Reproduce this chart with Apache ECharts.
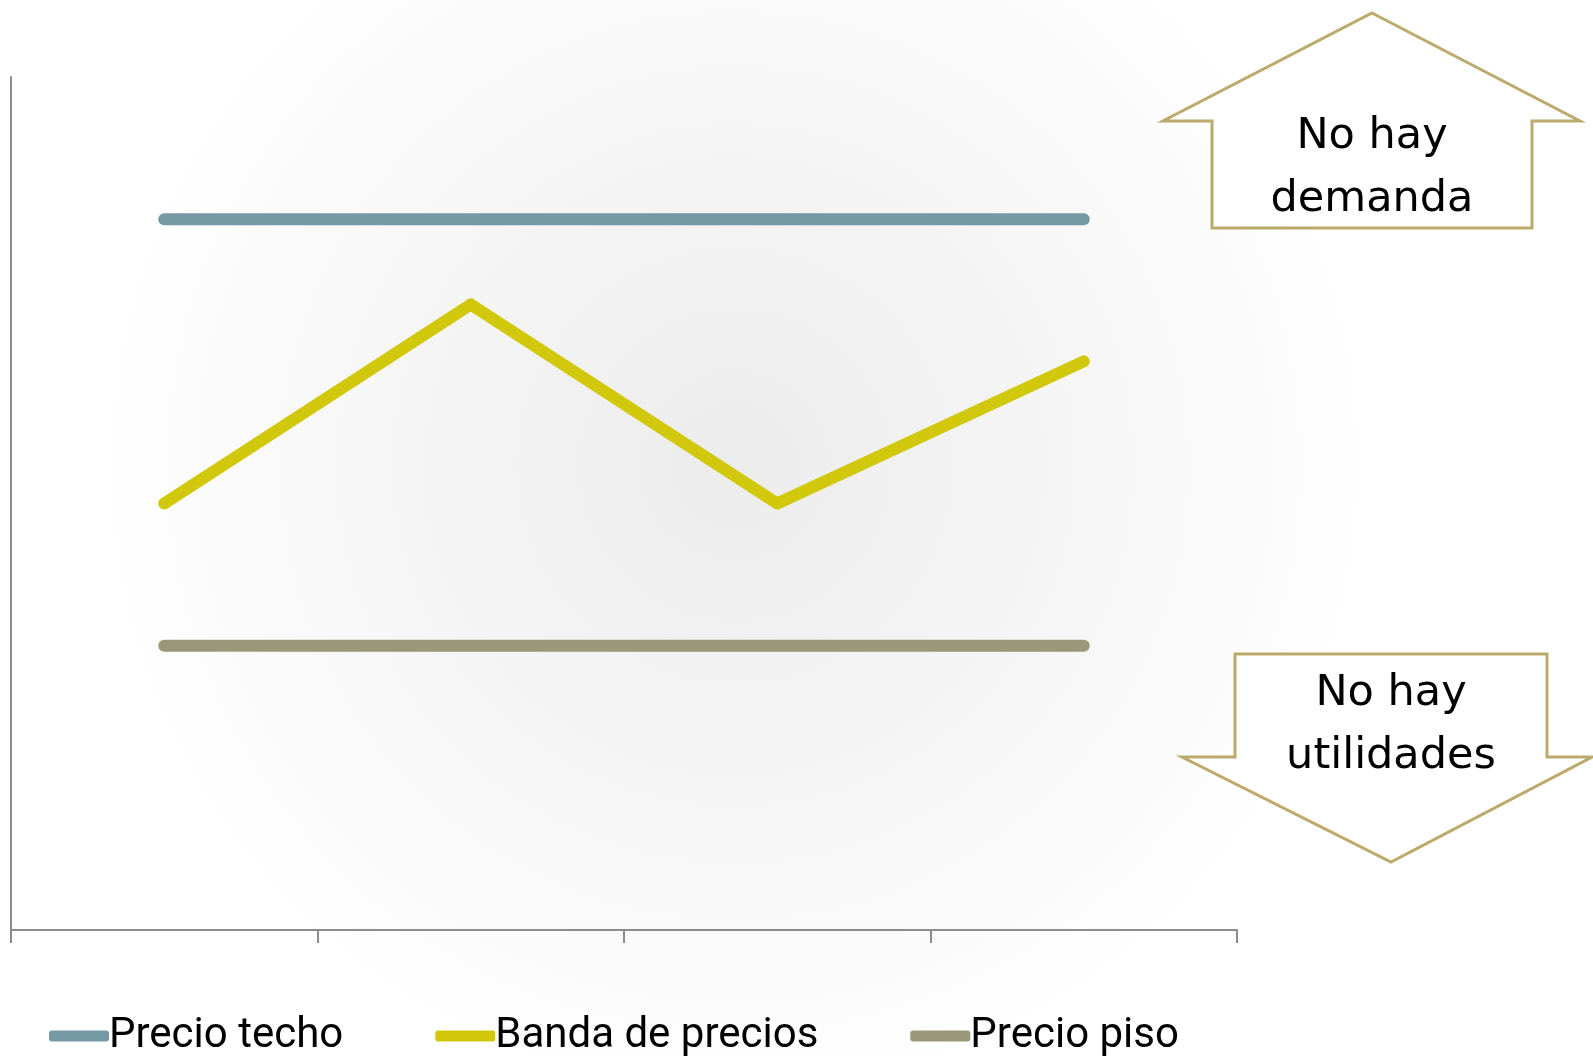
<!DOCTYPE html>
<html><head><meta charset="utf-8">
<script src="https://cdn.jsdelivr.net/npm/echarts@6/dist/echarts.min.js"></script>
<style>html,body{margin:0;padding:0;background:#fff}#c{width:1593px;height:1056px}</style>
</head><body><div id="c"></div>
<script>
const categories = ['1', '2', '3', '4'];
const precioTecho = [5, 5, 5, 5];
const bandaPrecios = [3, 4.4, 3, 4];
const precioPiso = [2, 2, 2, 2];
const seriesNames = ['Precio techo', 'Banda de precios', 'Precio piso'];
const colors = ['#7598a5', '#d1c80c', '#9a977b'];

const chart = echarts.init(document.getElementById('c'));
const arrowColor = '#bcaa6c';
const txtFont = '"DejaVu Sans"';
function mkLine(name, data, color) {
  return {
    name, type: 'line', data, symbol: 'none',
    lineStyle: { color, width: 12, cap: 'round', join: 'round' },
    itemStyle: { color }, z: 5
  };
}
chart.setOption({
  animation: false,
  backgroundColor: '#ffffff',
  grid: { left: 11, right: 356, top: 77, bottom: 126, containLabel: false },
  xAxis: {
    type: 'category', data: categories, boundaryGap: true,
    axisLine: { lineStyle: { color: '#8c8c8c', width: 2 } },
    axisTick: { show: true, length: 13, lineStyle: { color: '#8c8c8c', width: 2 } },
    axisLabel: { show: false }, splitLine: { show: false }
  },
  yAxis: {
    type: 'value', min: 0, max: 6, interval: 1,
    axisLine: { show: true, lineStyle: { color: '#8c8c8c', width: 2 } },
    axisTick: { show: false }, axisLabel: { show: false }, splitLine: { show: false }
  },
  legend: {
    top: 1015, left: 49, padding: 0, itemWidth: 60, itemHeight: 11, itemGap: 92,
    icon: 'roundRect',
    textStyle: { fontFamily: 'Roboto', fontSize: 42, color: '#000', padding: [0, 0, 0, -5] },
    data: seriesNames
  },
  series: [
    mkLine(seriesNames[0], precioTecho, colors[0]),
    mkLine(seriesNames[1], bandaPrecios, colors[1]),
    mkLine(seriesNames[2], precioPiso, colors[2])
  ],
  graphic: [
    {
      type: 'circle', z: -100, silent: true,
      shape: { cx: 735, cy: 465, r: 640 },
      style: { fill: { type: 'radial', x: 0.5, y: 0.5, r: 0.5,
        colorStops: [{ offset: 0, color: '#ececec' }, { offset: 0.55, color: '#f6f6f6' }, { offset: 1, color: 'rgba(255,255,255,1)' }] } }
    },
    {
      type: 'polygon', z: 10,
      shape: { points: [[1372, 13], [1580, 121], [1532, 121], [1532, 228], [1212, 228], [1212, 121], [1163, 121]] },
      style: { fill: '#ffffff', stroke: arrowColor, lineWidth: 3 }
    },
    { type: 'text', z: 11, style: { x: 1372, y: 137, text: 'No hay', align: 'center', verticalAlign: 'middle', font: '43px ' + txtFont, fill: '#000' } },
    { type: 'text', z: 11, style: { x: 1372, y: 200, text: 'demanda', align: 'center', verticalAlign: 'middle', font: '43px ' + txtFont, fill: '#000' } },
    {
      type: 'polygon', z: 10,
      shape: { points: [[1235, 654], [1547, 654], [1547, 757], [1592, 757], [1391, 862], [1182, 757], [1235, 757]] },
      style: { fill: '#ffffff', stroke: arrowColor, lineWidth: 3 }
    },
    { type: 'text', z: 11, style: { x: 1391, y: 694, text: 'No hay', align: 'center', verticalAlign: 'middle', font: '43px ' + txtFont, fill: '#000' } },
    { type: 'text', z: 11, style: { x: 1391, y: 757, text: 'utilidades', align: 'center', verticalAlign: 'middle', font: '43px ' + txtFont, fill: '#000' } }
  ]
});
</script></body></html>
